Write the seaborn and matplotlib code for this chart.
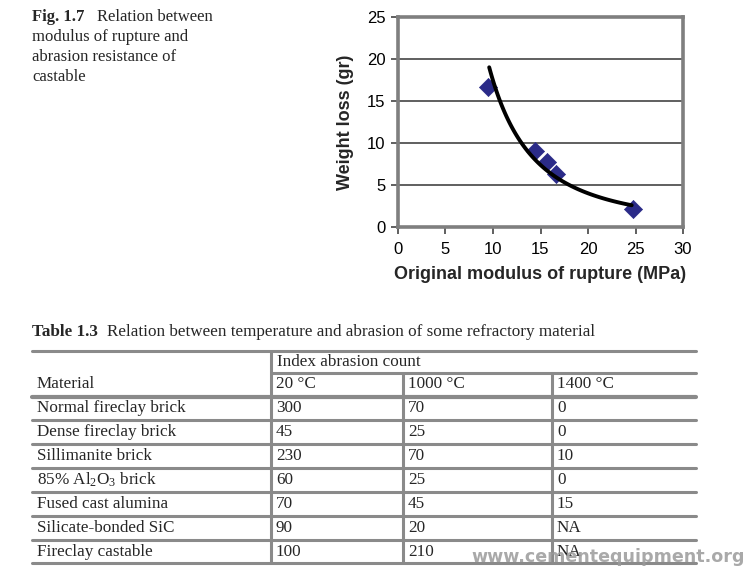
import numpy as np
import pandas as pd
import matplotlib
matplotlib.use("Agg")
import matplotlib.pyplot as plt
from matplotlib.lines import Line2D
import seaborn as sns

# ---------------- data ----------------
modulus = [9.5, 14.4, 15.7, 16.6, 24.7]          # MPa
weight_loss = [16.7, 9.0, 7.7, 6.3, 2.2]         # gr

x_ticks = [0, 5, 10, 15, 20, 25, 30]
y_ticks = [0, 5, 10, 15, 20, 25]

materials = ["Normal fireclay brick", "Dense fireclay brick", "Sillimanite brick",
             "85% Al$\\mathregular{_2}$O$\\mathregular{_3}$ brick", "Fused cast alumina",
             "Silicate-bonded SiC", "Fireclay castable"]
abr_20 = ["300", "45", "230", "60", "70", "90", "100"]
abr_1000 = ["70", "25", "70", "25", "45", "20", "210"]
abr_1400 = ["0", "0", "10", "0", "15", "NA", "NA"]
temps = ["20 \u00b0C", "1000 \u00b0C", "1400 \u00b0C"]

# ---------------- style ----------------
sns.set_theme(style="white")
plt.rcParams["font.family"] = ["Liberation Sans", "DejaVu Sans"]
plt.rcParams["mathtext.fontset"] = "custom"
plt.rcParams["mathtext.rm"] = "Liberation Serif"

W, H = 750, 571
fig = plt.figure(figsize=(W / 100, H / 100), dpi=100)

def fx(px):
    return px / W

def fy(py):
    return 1 - py / H

# ---------------- chart ----------------
ax = fig.add_axes([fx(398), fy(227), fx(683) - fx(398), fy(17) - fy(227)])
df = pd.DataFrame({"x": modulus, "y": weight_loss})

# power-law trend line fitted to the points
b, loga = np.polyfit(np.log(df["x"]), np.log(df["y"]), 1)
xs = np.linspace(9.6, 24.6, 100)
trend = pd.DataFrame({"x": xs, "y": np.exp(loga) * xs ** b})

sns.scatterplot(data=df, x="x", y="y", marker="D", s=85, color="#2B2B88",
                edgecolor="#2B2B88", linewidth=0.5, ax=ax, zorder=3)
sns.lineplot(data=trend, x="x", y="y", color="black", linewidth=2.8, ax=ax, zorder=4)

ax.set_xlim(0, 30)
ax.set_ylim(0, 25)
ax.set_xticks(x_ticks)
ax.set_yticks(y_ticks)
ax.set_xticklabels([str(t) for t in x_ticks])
ax.set_yticklabels([str(t) for t in y_ticks])
ax.yaxis.grid(True, color="#444444", linewidth=1.2)
ax.xaxis.grid(False)
ax.set_axisbelow(True)
for s in ax.spines.values():
    s.set_visible(True)
    s.set_color("#7f7f7f")
    s.set_linewidth(2.6)
ax.tick_params(axis="both", direction="out", length=5, width=1.2, color="#444444",
               labelsize=12, labelcolor="black")
ax.tick_params(axis="x", bottom=True, pad=6)
ax.tick_params(axis="y", left=True, pad=4)
ax.set_xlabel("Original modulus of rupture (MPa)", fontsize=13, fontweight="bold", labelpad=6)
ax.set_ylabel("Weight loss (gr)", fontsize=13, fontweight="bold", labelpad=9)

# ---------------- figure caption ----------------
serif = ["Liberation Serif", "DejaVu Serif"]
cfs = 12
fig.text(fx(32), fy(17), "Fig. 1.7", fontsize=cfs, fontweight="bold", family=serif, va="center")
fig.text(fx(97), fy(17), "Relation between", fontsize=cfs, family=serif, va="center")
for i, line in enumerate(["modulus of rupture and", "abrasion resistance of", "castable"]):
    fig.text(fx(32), fy(37 + 20 * i), line, fontsize=cfs, family=serif, va="center")

# ---------------- table ----------------
fs = 12.3
fig.text(fx(32), fy(332), "Table 1.3", fontsize=fs, fontweight="bold", family=serif, va="center")
fig.text(fx(107), fy(332), "Relation between temperature and abrasion of some refractory material",
         fontsize=fs, family=serif, va="center")

line_col = "#8a8a8a"
left, right = 32, 696
cols = [271, 403, 552]

def hline(y, x0=left, x1=right, lw=2.2):
    fig.add_artist(Line2D([fx(x0), fx(x1)], [fy(y), fy(y)], color=line_col, linewidth=lw,
                          transform=fig.transFigure))

def vline(x, y0, y1, lw=2.2):
    fig.add_artist(Line2D([fx(x), fx(x)], [fy(y0), fy(y1)], color=line_col, linewidth=lw,
                          transform=fig.transFigure))

hline(351)
hline(373, x0=cols[0])
hline(396.5, lw=3)
row_lines = [420, 444, 468, 492, 516, 540]
for y in row_lines:
    hline(y)
hline(563)
vline(cols[0], 351, 563)
vline(cols[1], 373, 563)
vline(cols[2], 373, 563)

fig.text(fx(cols[0] + 6), fy(361.5), "Index abrasion count", fontsize=fs, family=serif, va="center")
fig.text(fx(37), fy(384.5), "Material", fontsize=fs, family=serif, va="center")
for c, t in zip(cols, temps):
    fig.text(fx(c + 5), fy(384.5), t, fontsize=fs, family=serif, va="center")

row_centers = [408, 432, 456, 480, 504, 528, 551.5]
for yc, m, a, b2, c3 in zip(row_centers, materials, abr_20, abr_1000, abr_1400):
    fig.text(fx(37), fy(yc), m, fontsize=fs, family=serif, va="center")
    fig.text(fx(cols[0] + 5), fy(yc), a, fontsize=fs, family=serif, va="center")
    fig.text(fx(cols[1] + 5), fy(yc), b2, fontsize=fs, family=serif, va="center")
    fig.text(fx(cols[2] + 5), fy(yc), c3, fontsize=fs, family=serif, va="center")

# watermark
fig.text(fx(745), fy(557), "www.cementequipment.org", fontsize=12.6, fontweight="bold",
         family=["DejaVu Sans"], color="#9a9a9a", alpha=0.85, ha="right", va="center")

fig.savefig("out.png", dpi=100)
